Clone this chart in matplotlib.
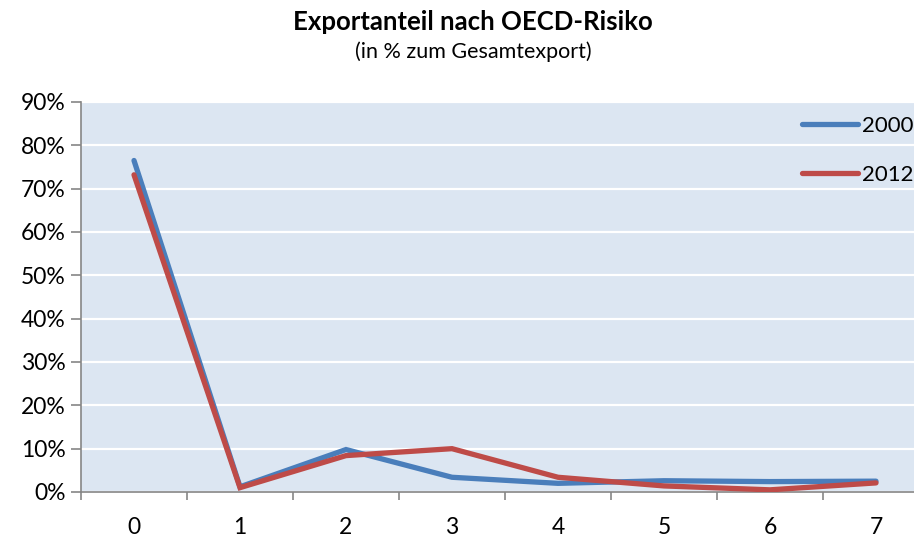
import matplotlib
matplotlib.use("Agg")
import matplotlib.pyplot as plt
from matplotlib.ticker import FuncFormatter, FixedLocator

plt.rcParams['font.family'] = ['Lato', 'DejaVu Sans']

# Data (percent of total export by OECD risk class)
categories = [0, 1, 2, 3, 4, 5, 6, 7]
share_2000 = [76.5, 1.2, 9.8, 3.4, 2.0, 2.6, 2.4, 2.5]
share_2012 = [73.2, 1.0, 8.4, 10.0, 3.4, 1.4, 0.5, 2.1]
y_ticks = [0, 10, 20, 30, 40, 50, 60, 70, 80, 90]

BLUE = "#4A7EBB"
RED = "#BE4B48"
GRID_BG = "#DCE6F2"
AXIS_GRAY = "#868686"

fig = plt.figure(figsize=(9.14, 5.37), dpi=100)
W, H = 914, 537
left, right, top, bottom = 81, 929, 102, 492
ax = fig.add_axes([left / W, 1 - bottom / H, (right - left) / W, (bottom - top) / H])
ax.set_facecolor(GRID_BG)

ax.plot(categories, share_2000, color=BLUE, lw=3.8, solid_capstyle="round",
        solid_joinstyle="miter", label="2000", zorder=3)
ax.plot(categories, share_2012, color=RED, lw=3.8, solid_capstyle="round",
        solid_joinstyle="miter", label="2012", zorder=4)

ax.set_xlim(-0.5, 7.5)
ax.set_ylim(0, 90)
ax.set_yticks(y_ticks)
ax.yaxis.set_major_formatter(FuncFormatter(lambda v, p: f"{int(v)}%"))
ax.yaxis.grid(True, color="white", lw=1.6)
ax.set_axisbelow(True)

# category labels centred, tick marks on boundaries
ax.set_xticks(categories)
ax.set_xticklabels([str(c) for c in categories])
ax.tick_params(axis="x", which="major", length=0, pad=18, labelsize=16.5)
ax.xaxis.set_minor_locator(FixedLocator([c - 0.5 for c in categories] + [7.5]))
ax.tick_params(axis="x", which="minor", length=6, width=1.2, color=AXIS_GRAY, direction="out")
ax.tick_params(axis="y", length=7, width=1.2, color=AXIS_GRAY, pad=4, labelsize=16.5)

for s in ["top", "right"]:
    ax.spines[s].set_visible(False)
for s in ["left", "bottom"]:
    ax.spines[s].set_color(AXIS_GRAY)
    ax.spines[s].set_linewidth(1.2)

leg = ax.legend(loc="upper left", bbox_to_anchor=((802 - left) / (right - left), 1 - 14 / (bottom - top)),
                frameon=False, fontsize=16, handlelength=2.5, handletextpad=0.2,
                labelspacing=1.3, borderaxespad=0, borderpad=0)

fig.text(473 / W, 1 - 22 / H, "Exportanteil nach OECD-Risiko", ha="center", va="center",
         fontsize=18.5, fontweight="bold")
fig.text(473 / W, 1 - 52 / H, "(in % zum Gesamtexport)", ha="center", va="center", fontsize=15.5)

fig.savefig("out.png", dpi=100)
